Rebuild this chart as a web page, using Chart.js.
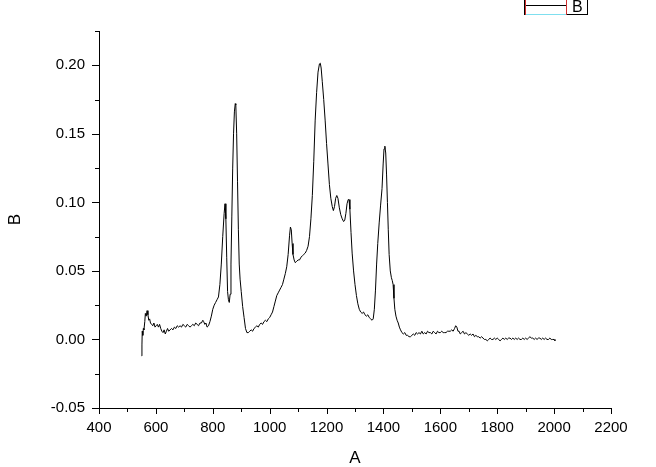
<!DOCTYPE html>
<html>
<head>
<meta charset="utf-8">
<script src="https://cdn.jsdelivr.net/npm/chart.js@4"></script>
<style>
html,body{margin:0;padding:0;background:#fff;}
canvas{display:block;}
</style>
</head>
<body>
<canvas id="c" width="656" height="467"></canvas>
<script>
const seriesName = "B";
const xTitle = "A";
const yTitle = "B";
const xTickLabels = ["400","600","800","1000","1200","1400","1600","1800","2000","2200"];
const yTickLabels = ["-0.05","0.00","0.05","0.10","0.15","0.20"];

const wavenumber = [
550,551,552,554,556,558,561,563,566,569,572,575,578,581,585,589,593,597,601,605,609,613,617,621,625,629,633,637,641,645,
650,655,660,665,670,675,680,685,690,695,700,705,710,715,720,725,730,735,740,745,750,755,760,765,768,772,776,780,785,790,
795,800,805,810,815,820,825,830,835,840,843,846,849,852,855,858,861,864,867,870,873,876,879,881,884,887,890,893,896,900,
905,910,915,920,925,930,935,940,945,950,955,960,965,970,975,980,985,990,995,1000,1005,1010,1015,1020,1025,1030,1035,1040,1045,1050,
1055,1060,1065,1070,1073,1076,1079,1082,1086,1090,1095,1100,1105,1110,1115,1120,1125,1130,1135,1140,1145,1150,1155,1160,1165,1170,1175,1178,1181,1185,
1190,1195,1200,1205,1210,1215,1220,1224,1228,1232,1236,1240,1245,1250,1255,1260,1264,1268,1272,1276,1279,1282,1286,1290,1295,1300,1305,1310,1315,1320,
1325,1330,1335,1340,1345,1350,1355,1360,1364,1368,1372,1376,1380,1385,1390,1395,1399,1402,1405,1408,1411,1414,1417,1420,1424,1428,1431,1434,1437,1440,
1444,1448,1452,1456,1460,1465,1470,1475,1480,1485,1490,1495,1500,1505,1510,1515,1520,1525,1530,1535,1540,1545,1550,1555,1560,1565,1570,1575,1580,1585,
1590,1595,1600,1605,1610,1615,1620,1625,1630,1635,1640,1645,1650,1654,1658,1662,1666,1670,1675,1680,1685,1690,1695,1700,1705,1710,1715,1720,1725,1730,
1735,1740,1745,1750,1755,1760,1765,1770,1775,1780,1785,1790,1795,1800,1805,1810,1815,1820,1825,1830,1835,1840,1845,1850,1855,1860,1865,1870,1875,1880,
1885,1890,1895,1900,1905,1910,1915,1920,1925,1930,1935,1940,1945,1950,1955,1960,1965,1970,1975,1980,1985,1990,1995,2000,2003
];
const absorbance = [
-0.012,-0.004,0.006,0.003,0.008,0.007,0.013,0.019,0.017,0.021,0.018,0.014,0.015,0.012,0.011,0.010,0.012,0.009,0.010,0.011,0.009,0.011,0.008,0.006,0.005,0.007,0.004,0.006,0.008,0.006,
0.007,0.008,0.007,0.009,0.008,0.010,0.009,0.010,0.009,0.011,0.010,0.009,0.011,0.010,0.009,0.010,0.011,0.010,0.012,0.011,0.010,0.012,0.012,0.014,0.013,0.011,0.012,0.009,0.010,0.013,
0.017,0.022,0.025,0.027,0.029,0.031,0.040,0.055,0.075,0.092,0.099,0.088,0.060,0.035,0.029,0.027,0.033,0.055,0.090,0.125,0.150,0.166,0.172,0.171,0.150,0.115,0.080,0.055,0.044,0.035,
0.024,0.016,0.008,0.005,0.005,0.006,0.007,0.006,0.008,0.009,0.010,0.009,0.011,0.012,0.011,0.013,0.014,0.013,0.015,0.016,0.018,0.020,0.024,0.028,0.032,0.034,0.036,0.038,0.040,0.044,
0.048,0.053,0.062,0.076,0.082,0.080,0.070,0.062,0.058,0.056,0.057,0.058,0.058,0.060,0.061,0.062,0.063,0.065,0.068,0.075,0.088,0.105,0.130,0.160,0.180,0.195,0.201,0.2015,0.198,0.188,
0.175,0.160,0.143,0.128,0.113,0.103,0.097,0.094,0.097,0.103,0.105,0.103,0.096,0.091,0.088,0.086,0.087,0.092,0.099,0.102,0.102,0.095,0.078,0.063,0.050,0.040,0.032,0.026,0.022,0.020,
0.019,0.020,0.018,0.017,0.018,0.016,0.015,0.014,0.015,0.022,0.036,0.055,0.070,0.085,0.098,0.110,0.128,0.139,0.141,0.136,0.120,0.100,0.080,0.062,0.050,0.045,0.043,0.040,0.030,0.022,
0.017,0.014,0.012,0.009,0.007,0.005,0.004,0.005,0.003,0.003,0.002,0.002,0.003,0.004,0.003,0.005,0.004,0.005,0.004,0.006,0.004,0.005,0.004,0.006,0.005,0.005,0.004,0.006,0.005,0.004,
0.006,0.005,0.005,0.006,0.005,0.005,0.005,0.006,0.006,0.006,0.007,0.006,0.008,0.010,0.009,0.006,0.006,0.004,0.005,0.006,0.004,0.005,0.004,0.003,0.004,0.003,0.004,0.002,0.003,0.002,
0.002,0.001,0.002,0.001,0.000,0.000,-0.001,0.000,0.001,0.000,0.000,0.001,0.000,0.001,0.000,-0.001,0.000,0.001,0.000,0.001,0.000,0.001,0.001,0.000,0.001,0.000,0.001,0.000,0.001,0.000,
0.000,0.001,0.000,0.001,0.000,0.001,0.002,0.001,0.001,0.000,0.001,0.000,0.001,0.001,0.000,0.001,0.000,0.001,0.000,0.000,0.001,0.000,0.000,0.000,-0.001
];

const FONT = "'Liberation Sans', Arial, sans-serif";
const points = wavenumber.map((x, i) => ({x: x, y: absorbance[i]}));

const tickMarks = {
  id: 'tickMarks',
  afterDraw(chart) {
    const ctx = chart.ctx;
    const xs = chart.scales.x, ys = chart.scales.y;
    const area = chart.chartArea;
    ctx.save();
    ctx.strokeStyle = '#000';
    ctx.lineWidth = 1;
    ctx.beginPath();
    xs.ticks.forEach(t => {
      const px = Math.round(xs.getPixelForValue(t.value)) + 0.5;
      const major = xTickLabels.indexOf(String(Math.round(t.value))) >= 0;
      const len = major ? 6 : 4;
      ctx.moveTo(px, area.bottom);
      ctx.lineTo(px, area.bottom + len);
    });
    ys.ticks.forEach(t => {
      const py = Math.round(ys.getPixelForValue(t.value)) + 0.5;
      const major = Math.abs(t.value / 0.05 - Math.round(t.value / 0.05)) < 1e-6;
      const len = major ? 7 : 4;
      ctx.moveTo(area.left, py);
      ctx.lineTo(area.left - len, py);
    });
    ctx.stroke();
    ctx.restore();
  }
};

const legendBox = {
  id: 'legendBox',
  afterDraw(chart) {
    const ctx = chart.ctx;
    ctx.save();
    ctx.lineWidth = 1;
    ctx.strokeStyle = '#000';
    ctx.strokeRect(524.5, -1.5, 63, 16);
    ctx.strokeStyle = '#d03030';
    ctx.beginPath();
    ctx.moveTo(525.5, 0); ctx.lineTo(525.5, 15);
    ctx.moveTo(566.5, 0); ctx.lineTo(566.5, 15);
    ctx.stroke();
    ctx.strokeStyle = '#000';
    ctx.beginPath();
    ctx.moveTo(526, 5.5); ctx.lineTo(566, 5.5);
    ctx.stroke();
    ctx.strokeStyle = '#7fdfef';
    ctx.beginPath();
    ctx.moveTo(526, 14.5); ctx.lineTo(566, 14.5);
    ctx.stroke();
    ctx.fillStyle = '#000';
    ctx.font = '16px ' + FONT;
    ctx.textBaseline = 'alphabetic';
    ctx.textAlign = 'left';
    ctx.fillText(seriesName, 572, 12);
    ctx.restore();
  }
};

new Chart(document.getElementById('c'), {
  type: 'scatter',
  data: {
    datasets: [{
      label: seriesName,
      data: points,
      showLine: true,
      borderColor: '#000',
      borderWidth: 1,
      pointRadius: 0,
      pointHoverRadius: 0,
      tension: 0,
      fill: false
    }]
  },
  options: {
    responsive: false,
    animation: false,
    events: [],
    layout: {padding: {top: 31, right: 45, left: 0, bottom: 0}},
    plugins: {legend: {display: false}, tooltip: {enabled: false}},
    scales: {
      x: {
        type: 'linear',
        min: 400, max: 2200,
        afterFit(s) { s.height = 59; },
        grid: {display: false, drawTicks: false},
        border: {display: true, color: '#000', width: 1},
        ticks: {
          stepSize: 100, autoSkip: false, maxRotation: 0, padding: 11,
          color: '#000', font: {family: FONT, size: 15},
          callback(v) { const s = String(Math.round(v)); return xTickLabels.indexOf(s) >= 0 ? s : ''; }
        },
        title: {display: true, text: xTitle, color: '#000', font: {family: FONT, size: 17, lineHeight: 1.0}, padding: {top: 0, bottom: 0}}
      },
      y: {
        type: 'linear',
        min: -0.05, max: 0.225,
        afterFit(s) { s.width = 99; },
        grid: {display: false, drawTicks: false},
        border: {display: true, color: '#000', width: 1},
        ticks: {
          stepSize: 0.025, autoSkip: false, padding: 14,
          color: '#000', font: {family: FONT, size: 15},
          callback(v) {
            const k = v / 0.05;
            if (Math.abs(k - Math.round(k)) > 1e-6) return '';
            const s = (Math.round(k) * 0.05).toFixed(2);
            return yTickLabels.indexOf(s) >= 0 ? s : '';
          }
        },
        title: {display: true, text: yTitle, color: '#000', font: {family: FONT, size: 17, lineHeight: 1.0}, padding: {top: 7, bottom: 0}}
      }
    }
  },
  plugins: [tickMarks, legendBox]
});
</script>
</body>
</html>
